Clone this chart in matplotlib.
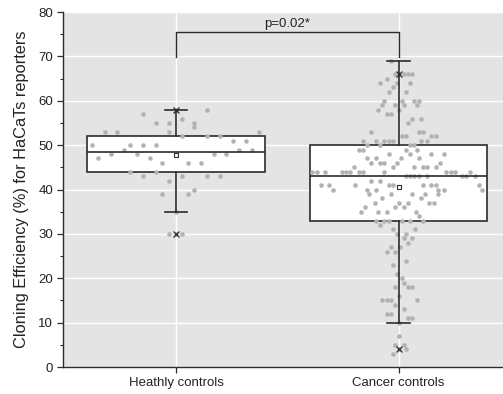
import numpy as np
import matplotlib.pyplot as plt
from matplotlib.ticker import MultipleLocator

plt.rcParams['font.family'] = ['Liberation Sans', 'DejaVu Sans']

groups = ['Heathly controls', 'Cancer controls']
positions = [1, 2]

# dot rows: value and horizontal spread (category units)
healthy_vals = [58, 57, 56, 55, 54, 53, 52, 51, 50, 49, 48, 47, 46, 44, 43, 42, 40, 39, 35, 30]
healthy_dx = [[0, 0.138], [-0.15], [0.024], [-0.091, -0.035, 0.081], [0.081],
              [-0.323, -0.266, -0.035, 0.371], [0.024, 0.138, 0.197], [0.254, 0.312],
              [-0.38, -0.207, -0.15, -0.091], [-0.236, 0.284, 0.341],
              [-0.294, -0.179, 0.168, 0.225], [-0.351, -0.12], [-0.063, 0.053, 0.11],
              [-0.207, -0.091], [-0.15, 0.024, 0.138, 0.197], [-0.035], [0.081],
              [-0.063, 0.053], [0], [-0.035, 0, 0.024]]

cancer_vals = [69, 66, 65, 64, 63, 62, 60, 59, 58, 57, 56, 55, 53, 52, 51, 50, 49, 48, 47,
               46, 45, 44, 43, 42, 41, 40, 39, 38, 37, 36, 35, 34, 33, 32, 31, 30, 29, 28,
               27, 26, 24, 23, 21, 20, 19, 18, 16, 15, 14, 13, 12, 11, 10, 7, 5, 4, 3]
cancer_dx = [[-0.036], [-0.017, 0.003, 0.023, 0.042, 0.062], [-0.054], [-0.083, -0.006, 0.051],
             [-0.026], [-0.045, 0.033], [-0.065, 0.014, 0.071, 0.09], [-0.074, -0.015, 0.023, 0.081],
             [-0.093, 0.003], [-0.054, -0.035], [0.062, 0.1], [0.042], [-0.122, 0.09, 0.11],
             [0.014, 0.033, 0.147, 0.167], [-0.161, -0.102, -0.065, -0.045, -0.026, 0.099, 0.128],
             [-0.141, -0.083, 0.051, 0.071], [-0.18, -0.161, 0.033, 0.081],
             [-0.045, 0.051, 0.147, 0.204], [-0.141, -0.102, 0.012, 0.09],
             [-0.122, -0.083, -0.065, -0.006, 0.188], [-0.2, -0.026, 0.071, 0.11, 0.13, 0.167],
             [-0.389, -0.369, -0.332, -0.255, -0.235, -0.218, -0.18, -0.161, -0.065, 0.215, 0.235, 0.255, 0.323],
             [0.033, 0.053, 0.071, 0.09, 0.13, 0.284, 0.303, 0.342], [-0.122, -0.083],
             [-0.351, -0.312, -0.198, -0.045, -0.026, 0.11, 0.147, 0.167, 0.36],
             [-0.294, -0.141, -0.102, 0.177, 0.206, 0.377], [-0.132, -0.036, 0.062, 0.119, 0.176],
             [-0.074, 0.099], [-0.104, 0.003, 0.042, 0.138, 0.158], [-0.152, -0.017, 0.023],
             [-0.17, -0.093, -0.054, 0.08], [0.09], [-0.102, -0.065, -0.045, 0.014, 0.051, 0.11],
             [-0.083], [-0.026, 0.072], [-0.006, 0.033], [0.023, 0.062], [0.042], [-0.035, 0.005],
             [-0.054, -0.015], [0.032], [-0.026], [-0.006], [0.014], [0.023], [-0.015, 0.042, 0.062],
             [0.003], [-0.074, -0.054, -0.035, 0.081], [-0.015], [0.023], [-0.054, -0.035],
             [0.042, 0.062], [0.0], [0.003], [-0.017, 0.023], [0.0, 0.032], [-0.026]]

# box statistics as shown
q1 = [44, 33]
med = [48.5, 43]
q3 = [52, 50]
whis_lo = [35, 10]
whis_hi = [58, 69]
means = [47.7, 40.5]
p1 = [30, 4]
p99 = [58, 66]

p_text = 'p=0.02*'
dark = '#2b2b2b'

fig = plt.figure(figsize=(5.03, 3.94), dpi=100)
ax = fig.add_axes([0.1252, 0.0685, 0.8748, 0.901])
ax.set_facecolor('#e4e4e4')

stats = []
for i in range(2):
    stats.append(dict(label=groups[i], q1=q1[i], med=med[i], q3=q3[i],
                      whislo=whis_lo[i], whishi=whis_hi[i], mean=means[i], fliers=[]))

bp = ax.bxp(stats, positions=positions, widths=0.8, patch_artist=True, showmeans=True,
            showfliers=False, capwidths=0.1,
            boxprops=dict(facecolor='white', edgecolor=dark, linewidth=1.2),
            medianprops=dict(color=dark, linewidth=1.2),
            whiskerprops=dict(color=dark, linewidth=1.2),
            capprops=dict(color=dark, linewidth=1.2),
            meanprops=dict(marker='s', markerfacecolor='white', markeredgecolor=dark,
                           markersize=3.2, markeredgewidth=0.8))
for b in bp['boxes']:
    b.set_zorder(2)
for k in ['whiskers', 'caps', 'medians']:
    for ln in bp[k]:
        ln.set_zorder(4)
for ln in bp['means']:
    ln.set_zorder(5)

# data dots
for pos, vals, dxs in [(1, healthy_vals, healthy_dx), (2, cancer_vals, cancer_dx)]:
    xs, ys = [], []
    for v, row in zip(vals, dxs):
        for d in row:
            xs.append(pos + d)
            ys.append(v)
    ax.plot(xs, ys, 'o', color='#b2b2b2', markersize=3.3, markeredgewidth=0, zorder=3)

# 1% / 99% markers
ax.plot(positions, p1, 'x', color=dark, markersize=3.8, markeredgewidth=0.9, zorder=5)
ax.plot(positions, p99, 'x', color=dark, markersize=3.8, markeredgewidth=0.9, zorder=5)

# significance bracket
ax.plot([1, 1, 2, 2], [69.8, 75.5, 75.5, 69.8], color=dark, linewidth=1.0, zorder=4)
ax.text(1.5, 75.9, p_text, ha='center', va='bottom', fontsize=9.5, color='#222222')

ax.set_xlim(0.49, 2.47)
ax.set_ylim(0, 80)
ax.set_xticks(positions)
ax.set_xticklabels(groups)
ax.yaxis.set_major_locator(MultipleLocator(10))
ax.yaxis.set_minor_locator(MultipleLocator(5))
ax.set_axisbelow(True)
ax.grid(True, which='major', color='white', linewidth=1.0)

for s in ['top', 'right']:
    ax.spines[s].set_visible(False)
for s in ['left', 'bottom']:
    ax.spines[s].set_color(dark)
    ax.spines[s].set_linewidth(1.0)
ax.tick_params(axis='both', which='major', direction='out', length=4, width=0.9,
               color=dark, labelsize=9.5, labelcolor='#222222', pad=3)
ax.tick_params(axis='y', which='minor', direction='out', length=2.5, width=0.8, color=dark)
ax.set_ylabel('Cloning Efficiency (%) for HaCaTs reporters', fontsize=11.8, color='#222222',
              labelpad=7)

plt.savefig('out.png', dpi=100)
